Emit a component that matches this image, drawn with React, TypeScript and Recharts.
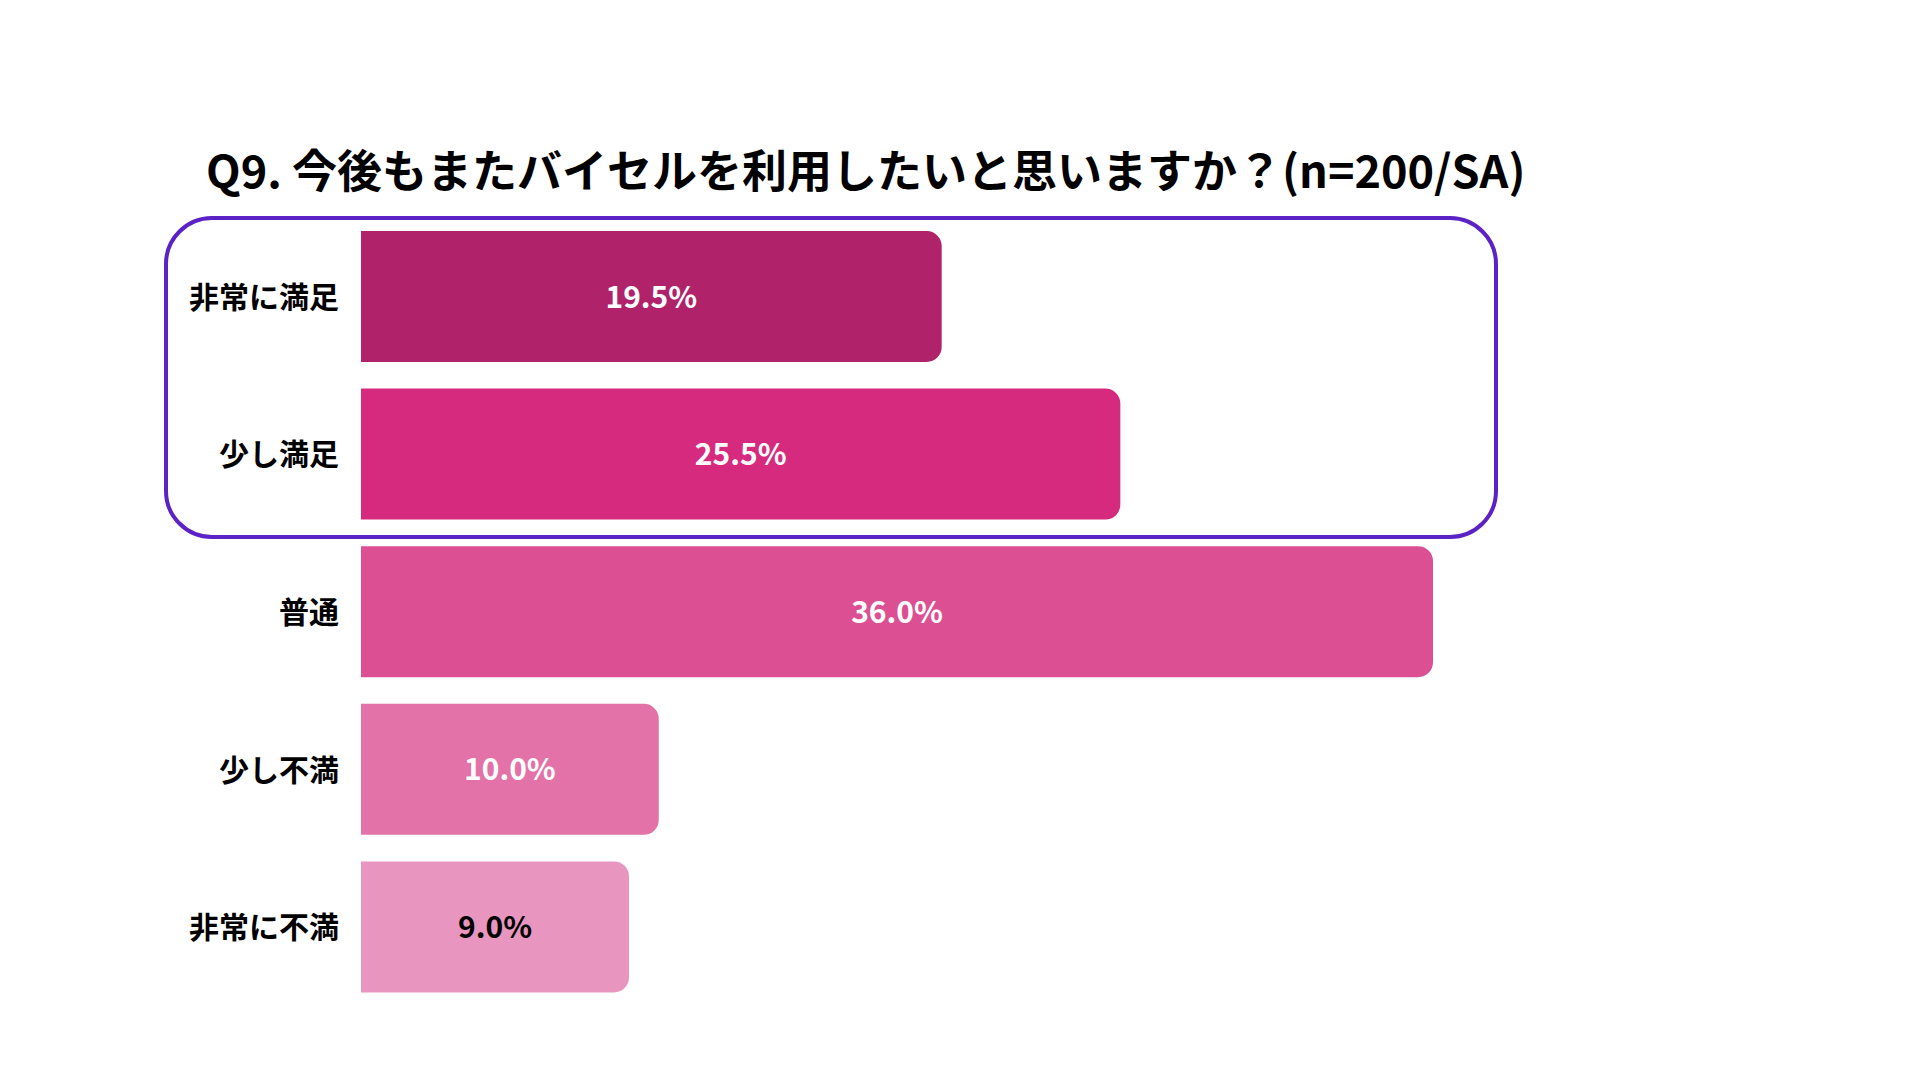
import React from "react";
import { BarChart, Bar, XAxis, YAxis, Cell, LabelList } from "recharts";

const categories = ["非常に満足", "少し満足", "普通", "少し不満", "非常に不満"];
const shares = [19.5, 25.5, 36.0, 10.0, 9.0];
const barColors = ["#B0226A", "#D62A7E", "#DC5093", "#E272A7", "#E895BF"];
const labelColors = ["#ffffff", "#ffffff", "#ffffff", "#ffffff", "#000000"];

const data = categories.map((name, i) => ({ name, value: shares[i] }));

const FONT = '"Noto Sans CJK JP", "Noto Sans", sans-serif';

const CategoryTick = (props: any) => {
  const { x, y, payload } = props;
  return (
    <text
      x={x - 14}
      y={y - 2}
      textAnchor="end"
      dominantBaseline="central"
      fontFamily={FONT}
      fontWeight={700}
      fontSize={30}
      fill="#000"
    >
      {payload.value}
    </text>
  );
};

const ValueLabel = (props: any) => {
  const { x, y, width, height, value, index } = props;
  return (
    <text
      x={x + width / 2}
      y={y + height / 2 - 2}
      textAnchor="middle"
      dominantBaseline="central"
      fontFamily={FONT}
      fontWeight={700}
      fontSize={30}
      fill={labelColors[index]}
    >
      {value.toFixed(1)}%
    </text>
  );
};

const App = () => {
  return (
    <div
      style={{
        position: "absolute",
        left: 0,
        top: 0,
        width: 1920,
        height: 1080,
        background: "#fff",
        fontFamily: FONT,
      }}
    >
      <div
        style={{
          position: "absolute",
          left: 206,
          top: 140,
          fontSize: 45,
          fontWeight: 700,
          lineHeight: "58px",
          whiteSpace: "nowrap",
          color: "#000",
        }}
      >
        Q9. 今後もまたバイセルを利用したいと思いますか？(n=200/SA)
      </div>
      {/* highlight box around the satisfied rows */}
      <div
        style={{
          position: "absolute",
          left: 164,
          top: 216,
          width: 1334,
          height: 323,
          boxSizing: "border-box",
          border: "4px solid #5B22C6",
          borderRadius: 48,
        }}
      />
      <div style={{ position: "absolute", left: 0, top: 0 }}>
        <BarChart
          width={1920}
          height={1080}
          data={data}
          layout="vertical"
          margin={{ top: 218, right: 487, bottom: 74, left: 0 }}
          barSize={131}
        >
          <XAxis type="number" domain={[0, 36]} hide />
          <YAxis
            type="category"
            dataKey="name"
            width={361}
            axisLine={false}
            tickLine={false}
            tick={<CategoryTick />}
          />
          <Bar dataKey="value" radius={[0, 15, 15, 0]} isAnimationActive={false}>
            {data.map((d, i) => (
              <Cell key={d.name} fill={barColors[i]} />
            ))}
            <LabelList dataKey="value" content={<ValueLabel />} />
          </Bar>
        </BarChart>
      </div>
    </div>
  );
};

export default App;
